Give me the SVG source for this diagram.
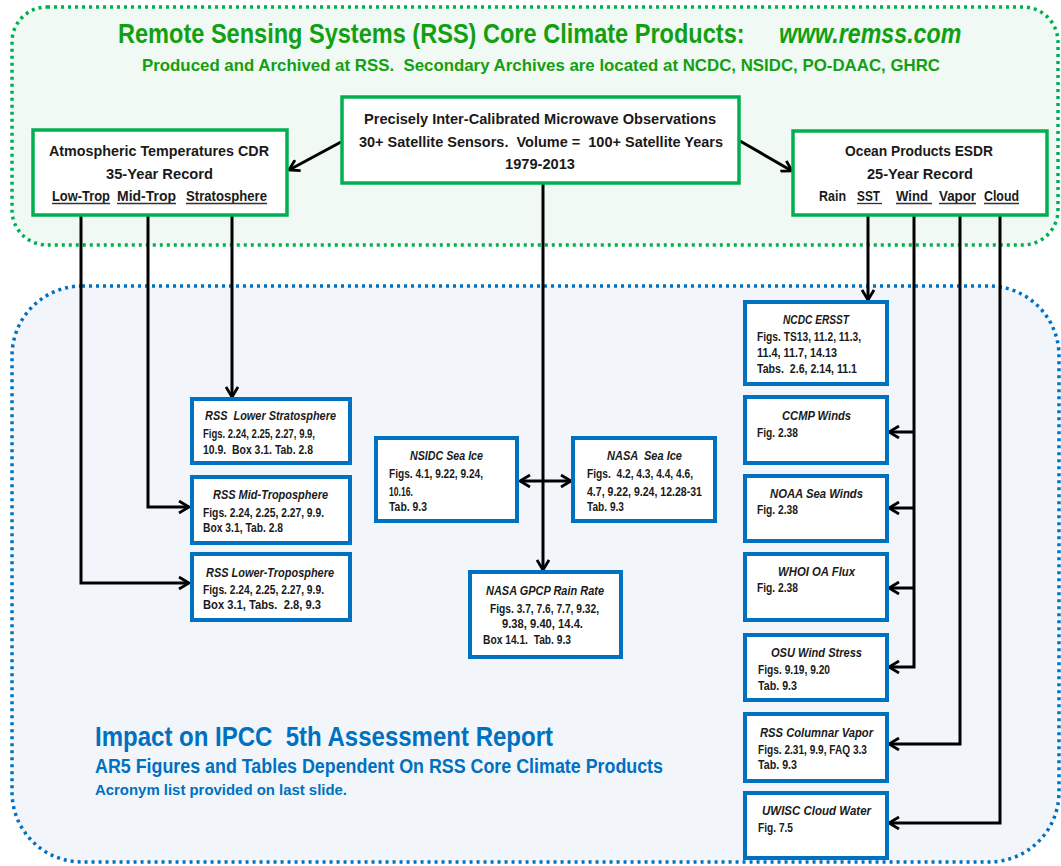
<svg xmlns="http://www.w3.org/2000/svg" width="1061" height="866" viewBox="0 0 1061 866">
<style>
text{font-family:"Liberation Sans",Arial,sans-serif;font-weight:bold;white-space:pre}
.k{fill:#1a1a1a}
.hd{font-size:15px}
.bt{font-size:13.5px;font-style:italic}
.bb{font-size:12px}
.gt{fill:#12a012}
.bl{fill:#0070c0}
.bg{fill:#fff;stroke:#00b050;stroke-width:3.5}
.bx{fill:#fff;stroke:#0070c0;stroke-width:4}
.con{fill:none;stroke:#000;stroke-width:3}
.ul{stroke:#333;stroke-width:1.3}
</style>
<defs>
<marker id="ah" viewBox="0 0 12 14" refX="11" refY="7" markerWidth="12" markerHeight="14" markerUnits="userSpaceOnUse" orient="auto-start-reverse">
<path d="M1,1 L11,7 L1,13" fill="none" stroke="#000" stroke-width="2.8"/>
</marker>
</defs>

<g id="containers">
<rect x="12" y="7" width="1046" height="238" rx="35" fill="#f1f9f4" stroke="#00b050" stroke-width="3.5" stroke-dasharray="3 4"/>
<rect x="12" y="286" width="1047" height="576" rx="70" fill="#f2f6fb" stroke="#0070c0" stroke-width="3.5" stroke-dasharray="3 4"/>
</g>

<g id="titles">
<text class="gt" font-size="27" transform="translate(118,43) scale(0.872,1)">Remote Sensing Systems (RSS) Core Climate Products:</text>
<text class="gt" font-size="27" font-style="italic" transform="translate(779,43) scale(0.86,1)">www.remss.com</text>
<text class="gt" x="142" y="71" font-size="17" textLength="798" lengthAdjust="spacingAndGlyphs">Produced and Archived at RSS.  Secondary Archives are located at NCDC, NSIDC, PO-DAAC, GHRC</text>
<text class="bl" x="95" y="746" font-size="28" textLength="458" lengthAdjust="spacingAndGlyphs">Impact on IPCC  5th Assessment Report</text>
<text class="bl" x="95" y="773" font-size="20" textLength="568" lengthAdjust="spacingAndGlyphs">AR5 Figures and Tables Dependent On RSS Core Climate Products</text>
<text class="bl" x="95" y="795" font-size="15" textLength="252" lengthAdjust="spacingAndGlyphs">Acronym list provided on last slide.</text>
</g>

<g id="connectors">
<path class="con" d="M341,142 L289,170" marker-end="url(#ah)"/>
<path class="con" d="M740,141 L792,171" marker-end="url(#ah)"/>
<path class="con" d="M543,183 V570" marker-end="url(#ah)"/>
<path class="con" d="M520,481 H571" marker-start="url(#ah)" marker-end="url(#ah)"/>
<path class="con" d="M81,203 V583 H189" marker-end="url(#ah)"/>
<path class="con" d="M148,203 V507 H189" marker-end="url(#ah)"/>
<path class="con" d="M232,203 V397" marker-end="url(#ah)"/>
<path class="con" d="M868,205 V300" marker-end="url(#ah)"/>
<path class="con" d="M914,205 V667 H889" marker-end="url(#ah)"/>
<path class="con" d="M914,432 H889" marker-end="url(#ah)"/>
<path class="con" d="M914,508 H889" marker-end="url(#ah)"/>
<path class="con" d="M914,588 H889" marker-end="url(#ah)"/>
<path class="con" d="M960,205 V744 H889" marker-end="url(#ah)"/>
<path class="con" d="M1000,205 V823 H889" marker-end="url(#ah)"/>
</g>

<g id="n-center">
<rect class="bg" x="342" y="97" width="397" height="86"/>
<text class="k hd" x="540" y="124" text-anchor="middle" textLength="352" lengthAdjust="spacingAndGlyphs">Precisely Inter-Calibrated Microwave Observations</text>
<text class="k hd" x="541" y="147" text-anchor="middle" textLength="364" lengthAdjust="spacingAndGlyphs">30+ Satellite Sensors.  Volume =  100+ Satellite Years</text>
<text class="k hd" x="540" y="169" text-anchor="middle" textLength="70" lengthAdjust="spacingAndGlyphs">1979-2013</text>
</g>

<g id="n-atmos">
<rect class="bg" x="33" y="130" width="254" height="85"/>
<text class="k hd" x="159" y="156" text-anchor="middle" textLength="220" lengthAdjust="spacingAndGlyphs">Atmospheric Temperatures CDR</text>
<text class="k hd" x="159.5" y="179" text-anchor="middle" textLength="107" lengthAdjust="spacingAndGlyphs">35-Year Record</text>
<text class="k hd" x="52" y="201" textLength="58" lengthAdjust="spacingAndGlyphs">Low-Trop</text>
<text class="k hd" x="117" y="201" textLength="59" lengthAdjust="spacingAndGlyphs">Mid-Trop</text>
<text class="k hd" x="186" y="201" textLength="81" lengthAdjust="spacingAndGlyphs">Stratosphere</text>
<line class="ul" x1="52" y1="203.5" x2="110" y2="203.5"/>
<line class="ul" x1="117" y1="203.5" x2="176" y2="203.5"/>
<line class="ul" x1="186" y1="203.5" x2="267" y2="203.5"/>
</g>

<g id="n-ocean">
<rect class="bg" x="793" y="131" width="254" height="84"/>
<text class="k hd" x="919" y="156" text-anchor="middle" textLength="148" lengthAdjust="spacingAndGlyphs">Ocean Products ESDR</text>
<text class="k hd" x="920" y="179" text-anchor="middle" textLength="106" lengthAdjust="spacingAndGlyphs">25-Year Record</text>
<text class="k hd" x="819" y="201" textLength="27" lengthAdjust="spacingAndGlyphs">Rain</text>
<text class="k hd" x="857" y="201" textLength="23" lengthAdjust="spacingAndGlyphs">SST</text>
<text class="k hd" x="896" y="201" textLength="32" lengthAdjust="spacingAndGlyphs">Wind</text>
<text class="k hd" x="939" y="201" textLength="37" lengthAdjust="spacingAndGlyphs">Vapor</text>
<text class="k hd" x="984" y="201" textLength="35" lengthAdjust="spacingAndGlyphs">Cloud</text>
<line class="ul" x1="857" y1="203.5" x2="882" y2="203.5"/>
<line class="ul" x1="896" y1="203.5" x2="932" y2="203.5"/>
<line class="ul" x1="939" y1="203.5" x2="976" y2="203.5"/>
<line class="ul" x1="984" y1="203.5" x2="1019" y2="203.5"/>
</g>

<g id="n-lstrat">
<rect class="bx" x="192" y="399" width="158" height="64"/>
<text class="k bt" x="205" y="420" textLength="131" lengthAdjust="spacingAndGlyphs">RSS  Lower Stratosphere</text>
<text class="k bb" x="203" y="438" textLength="112" lengthAdjust="spacingAndGlyphs">Figs. 2.24, 2.25, 2.27, 9.9,</text>
<text class="k bb" x="203" y="454" textLength="110" lengthAdjust="spacingAndGlyphs">10.9.  Box 3.1. Tab. 2.8</text>
</g>

<g id="n-midtrop">
<rect class="bx" x="192" y="477" width="158" height="66"/>
<text class="k bt" x="213" y="499" textLength="115" lengthAdjust="spacingAndGlyphs">RSS Mid-Troposphere</text>
<text class="k bb" x="203" y="517" textLength="121" lengthAdjust="spacingAndGlyphs">Figs. 2.24, 2.25, 2.27, 9.9.</text>
<text class="k bb" x="203" y="532" textLength="80" lengthAdjust="spacingAndGlyphs">Box 3.1, Tab. 2.8</text>
</g>

<g id="n-lowtrop">
<rect class="bx" x="192" y="554" width="158" height="66"/>
<text class="k bt" x="206" y="577" textLength="128" lengthAdjust="spacingAndGlyphs">RSS Lower-Troposphere</text>
<text class="k bb" x="203" y="594" textLength="121" lengthAdjust="spacingAndGlyphs">Figs. 2.24, 2.25, 2.27, 9.9.</text>
<text class="k bb" x="203" y="609" textLength="118" lengthAdjust="spacingAndGlyphs">Box 3.1, Tabs.  2.8, 9.3</text>
</g>

<g id="n-nsidc">
<rect class="bx" x="376" y="438" width="141" height="83"/>
<text class="k bt" x="410" y="460" textLength="73" lengthAdjust="spacingAndGlyphs">NSIDC Sea Ice</text>
<text class="k bb" x="389" y="478" textLength="94" lengthAdjust="spacingAndGlyphs">Figs. 4.1, 9.22, 9.24,</text>
<text class="k bb" x="389" y="496" textLength="24" lengthAdjust="spacingAndGlyphs">10.16.</text>
<text class="k bb" x="389" y="511" textLength="38" lengthAdjust="spacingAndGlyphs">Tab. 9.3</text>
</g>

<g id="n-nasaice">
<rect class="bx" x="573" y="438" width="142" height="83"/>
<text class="k bt" x="607" y="460" textLength="75" lengthAdjust="spacingAndGlyphs">NASA  Sea Ice</text>
<text class="k bb" x="587" y="478" textLength="106" lengthAdjust="spacingAndGlyphs">Figs.  4.2, 4.3, 4.4, 4.6,</text>
<text class="k bb" x="587" y="496" textLength="115" lengthAdjust="spacingAndGlyphs">4.7, 9.22, 9.24, 12.28-31</text>
<text class="k bb" x="587" y="511" textLength="37" lengthAdjust="spacingAndGlyphs">Tab. 9.3</text>
</g>

<g id="n-gpcp">
<rect class="bx" x="470" y="572" width="151" height="85"/>
<text class="k bt" x="486" y="595" textLength="118" lengthAdjust="spacingAndGlyphs">NASA GPCP Rain Rate</text>
<text class="k bb" x="490" y="613" textLength="109" lengthAdjust="spacingAndGlyphs">Figs. 3.7, 7.6, 7.7, 9.32,</text>
<text class="k bb" x="502" y="628" textLength="81" lengthAdjust="spacingAndGlyphs">9.38, 9.40, 14.4.</text>
<text class="k bb" x="483" y="644" textLength="88" lengthAdjust="spacingAndGlyphs">Box 14.1.  Tab. 9.3</text>
</g>

<g id="n-ersst">
<rect class="bx" x="745" y="302" width="142" height="82"/>
<text class="k bt" x="783" y="324" textLength="66" lengthAdjust="spacingAndGlyphs">NCDC ERSST</text>
<text class="k bb" x="757" y="341" textLength="104" lengthAdjust="spacingAndGlyphs">Figs. TS13, 11.2, 11.3,</text>
<text class="k bb" x="757" y="357" textLength="80" lengthAdjust="spacingAndGlyphs">11.4, 11.7, 14.13</text>
<text class="k bb" x="757" y="373" textLength="100" lengthAdjust="spacingAndGlyphs">Tabs.  2.6, 2.14, 11.1</text>
</g>

<g id="n-ccmp">
<rect class="bx" x="745" y="397" width="142" height="66"/>
<text class="k bt" x="782" y="420" textLength="69" lengthAdjust="spacingAndGlyphs">CCMP Winds</text>
<text class="k bb" x="757" y="437" textLength="41" lengthAdjust="spacingAndGlyphs">Fig. 2.38</text>
</g>

<g id="n-noaa">
<rect class="bx" x="745" y="476" width="142" height="65"/>
<text class="k bt" x="770" y="498" textLength="93" lengthAdjust="spacingAndGlyphs">NOAA Sea Winds</text>
<text class="k bb" x="757" y="514" textLength="41" lengthAdjust="spacingAndGlyphs">Fig. 2.38</text>
</g>

<g id="n-whoi">
<rect class="bx" x="745" y="554" width="142" height="66"/>
<text class="k bt" x="778" y="576" textLength="77" lengthAdjust="spacingAndGlyphs">WHOI OA Flux</text>
<text class="k bb" x="757" y="592" textLength="41" lengthAdjust="spacingAndGlyphs">Fig. 2.38</text>
</g>

<g id="n-osu">
<rect class="bx" x="745" y="635" width="142" height="65"/>
<text class="k bt" x="771" y="657" textLength="91" lengthAdjust="spacingAndGlyphs">OSU Wind Stress</text>
<text class="k bb" x="758" y="674" textLength="72" lengthAdjust="spacingAndGlyphs">Figs. 9.19, 9.20</text>
<text class="k bb" x="758" y="690" textLength="39" lengthAdjust="spacingAndGlyphs">Tab. 9.3</text>
</g>

<g id="n-vapor">
<rect class="bx" x="745" y="714" width="142" height="67"/>
<text class="k bt" x="760" y="737" textLength="113" lengthAdjust="spacingAndGlyphs">RSS Columnar Vapor</text>
<text class="k bb" x="758" y="754" textLength="109" lengthAdjust="spacingAndGlyphs">Figs. 2.31, 9.9, FAQ 3.3</text>
<text class="k bb" x="758" y="769" textLength="39" lengthAdjust="spacingAndGlyphs">Tab. 9.3</text>
</g>

<g id="n-cloud">
<rect class="bx" x="745" y="793" width="142" height="65"/>
<text class="k bt" x="762" y="815" textLength="109" lengthAdjust="spacingAndGlyphs">UWISC Cloud Water</text>
<text class="k bb" x="758" y="832" textLength="35" lengthAdjust="spacingAndGlyphs">Fig. 7.5</text>
</g>
</svg>
